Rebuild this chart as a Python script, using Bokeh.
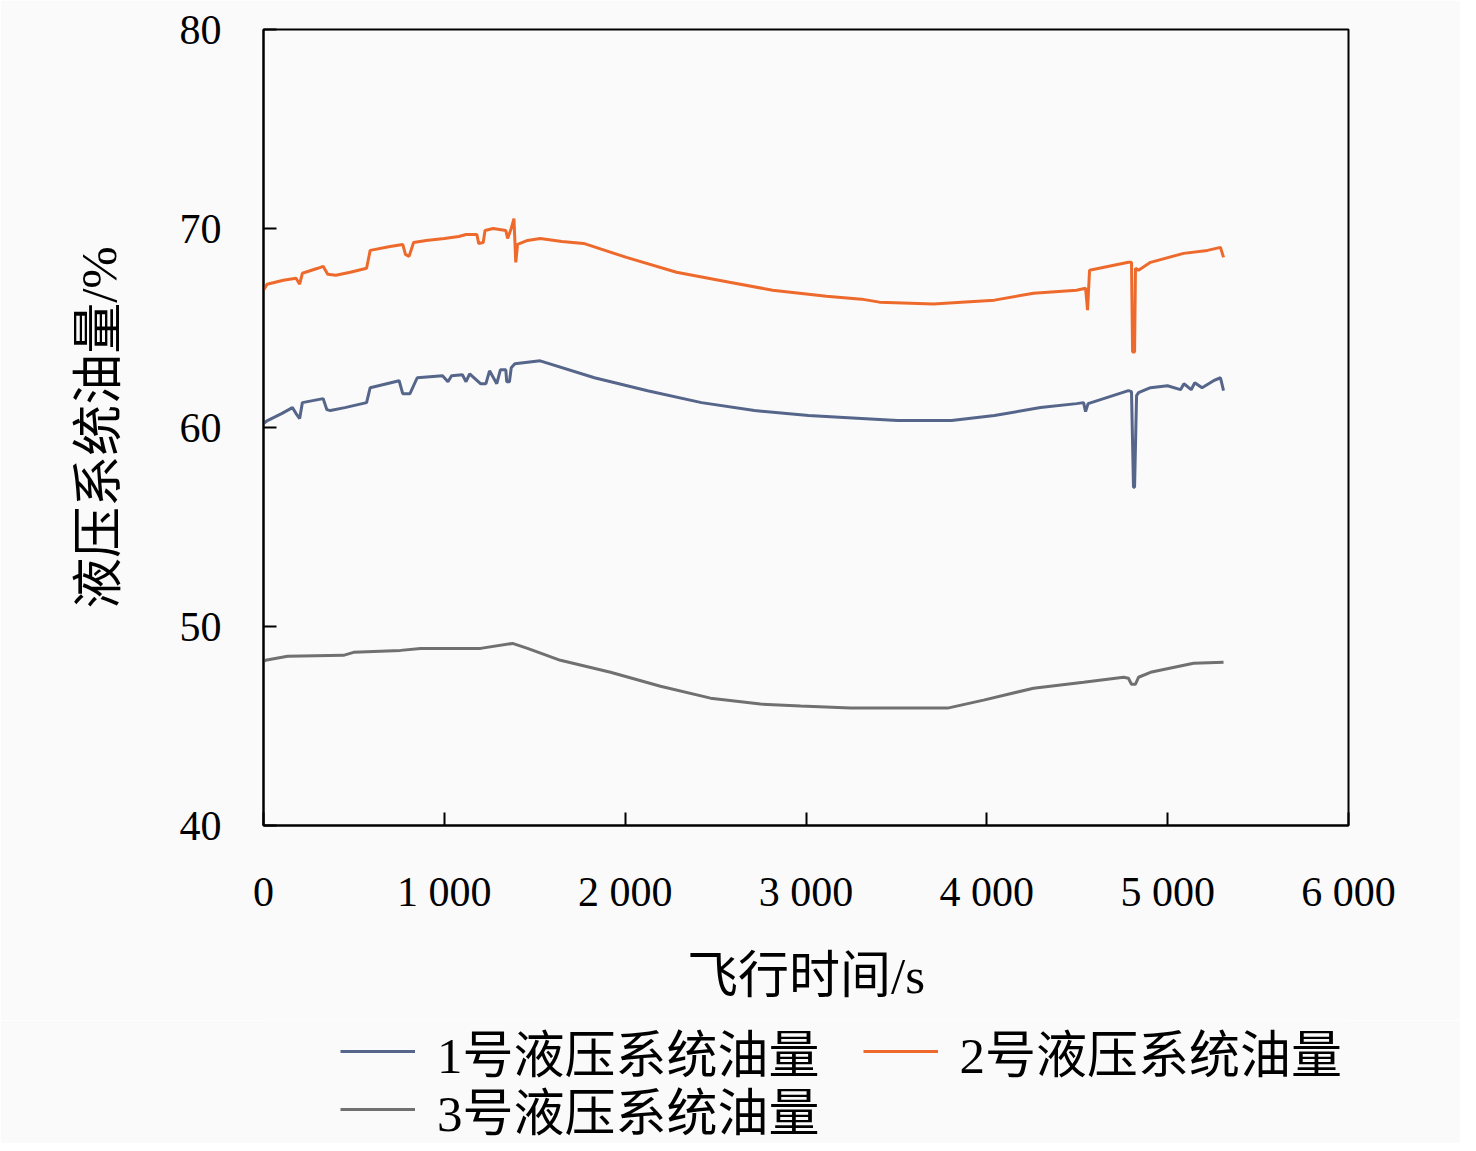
from bokeh.plotting import figure
from bokeh.layouts import column
from bokeh.models import Legend, LegendItem, FixedTicker, Range1d
from bokeh.embed import file_html
from bokeh.resources import INLINE

# ---- data ----
s1_t = [0, 22, 100, 160, 180, 200, 215, 330, 350, 370, 450, 570, 590, 750, 770, 810, 850,
        990, 1020, 1040, 1100, 1120, 1140, 1200, 1230, 1250, 1290, 1310, 1340, 1345, 1360,
        1370, 1390, 1530, 1830, 2124, 2422, 2715, 3014, 3307, 3506, 3805, 4042, 4297, 4496,
        4535, 4546, 4560, 4783, 4800, 4811, 4817, 4828, 4839, 4905, 4999, 5071, 5090, 5130,
        5150, 5190, 5254, 5292, 5309]
s1_v = [60.2, 60.35, 60.7, 61.0, 60.7, 60.45, 61.25, 61.45, 60.9, 60.85, 61.0, 61.25, 62.0,
        62.35, 61.7, 61.7, 62.5, 62.6, 62.3, 62.6, 62.65, 62.3, 62.7, 62.2, 62.2, 62.85, 62.2,
        62.9, 62.9, 62.3, 62.3, 63.0, 63.2, 63.35, 62.5, 61.85, 61.25, 60.85, 60.6, 60.45,
        60.35, 60.35, 60.6, 61.0, 61.2, 61.25, 60.8, 61.2, 61.85, 61.8, 57.0, 57.0, 61.6,
        61.75, 62.0, 62.1, 61.9, 62.2, 61.9, 62.25, 62.0, 62.35, 62.5, 61.85]

s2_t = [0, 20, 110, 180, 200, 215, 300, 330, 355, 400, 480, 570, 590, 700, 770, 785, 805,
        830, 900, 1000, 1080, 1120, 1180, 1190, 1215, 1225, 1270, 1340, 1350, 1370, 1385,
        1395, 1405, 1460, 1530, 1650, 1770, 2007, 2284, 2577, 2815, 3113, 3307, 3406, 3705,
        3860, 4042, 4258, 4496, 4546, 4557, 4568, 4783, 4800, 4806, 4817, 4822, 4839, 4905,
        5088, 5220, 5292, 5309]
s2_v = [66.9, 67.2, 67.4, 67.5, 67.2, 67.75, 68.0, 68.1, 67.7, 67.65, 67.8, 68.0, 68.9, 69.1,
        69.2, 68.7, 68.6, 69.3, 69.4, 69.5, 69.6, 69.7, 69.7, 69.25, 69.3, 69.9, 70.0, 69.9,
        69.5, 70.0, 70.5, 68.3, 69.2, 69.4, 69.5, 69.35, 69.25, 68.55, 67.8, 67.3, 66.9, 66.6,
        66.45, 66.3, 66.2, 66.3, 66.4, 66.75, 66.9, 67.0, 65.9, 67.9, 68.3, 68.3, 63.8, 63.8,
        68.0, 67.9, 68.3, 68.75, 68.9, 69.05, 68.55]

s3_t = [0, 11, 133, 442, 498, 758, 868, 1200, 1377, 1460, 1642, 1919, 2195, 2472, 2748, 2970,
        3246, 3783, 3982, 4258, 4535, 4756, 4783, 4800, 4822, 4839, 4905, 5143, 5309]
s3_v = [48.25, 48.3, 48.5, 48.55, 48.7, 48.8, 48.9, 48.9, 49.15, 48.9, 48.3, 47.7, 47.0, 46.4,
        46.1, 46.0, 45.9, 45.9, 46.3, 46.9, 47.2, 47.45, 47.4, 47.1, 47.1, 47.45, 47.7, 48.15,
        48.2]

series_t = [s1_t, s2_t, s3_t]
series_v = [s1_v, s2_v, s3_v]
series_names = ["1号液压系统油量", "2号液压系统油量", "3号液压系统油量"]
series_colors = ["#56658a", "#ee6a2c", "#707070"]
x_ticks = [0, 1000, 2000, 3000, 4000, 5000, 6000]
x_tick_labels = ["0", "1 000", "2 000", "3 000", "4 000", "5 000", "6 000"]
y_ticks = [40, 50, 60, 70, 80]
x_title = "飞行时间/s"
y_title = "液压系统油量/%"

FONT = "Liberation Serif, Noto Sans CJK SC"
BG = "#fafafa"
W = 1460
H_MAIN = 1020
H_LEG = 123
LW = 3

p = figure(width=W, height=H_MAIN, output_backend="svg", toolbar_location=None,
           x_range=Range1d(0, 6000), y_range=Range1d(40, 80),
           min_border_left=263, min_border_top=29, min_border_right=112,
           min_border_bottom=H_MAIN - 825)
p.background_fill_color = BG
p.border_fill_color = BG
p.outline_line_color = "black"
p.outline_line_width = 2
p.grid.visible = False

for t, v, c in zip(series_t, series_v, series_colors):
    p.line(t, v, line_color=c, line_width=LW)

for ax in (p.xaxis[0], p.yaxis[0]):
    ax.axis_line_color = "black"
    ax.axis_line_width = 2
    ax.major_tick_in = 13
    ax.major_tick_out = 0
    ax.major_tick_line_width = 2
    ax.minor_tick_line_color = None
    ax.major_label_text_font = FONT
    ax.major_label_text_font_size = "42px"
    ax.major_label_text_color = "black"
    ax.axis_label_text_font = FONT
    ax.axis_label_text_font_size = "51px"
    ax.axis_label_text_font_style = "normal"
    ax.axis_label_text_color = "black"

p.xaxis.ticker = FixedTicker(ticks=x_ticks)
p.xaxis.major_label_overrides = {t: l for t, l in zip(x_ticks, x_tick_labels)}
p.xaxis.major_label_standoff = 43
p.xaxis.axis_label = x_title
p.xaxis.axis_label_standoff = 30

p.yaxis.ticker = FixedTicker(ticks=y_ticks)
p.yaxis.major_label_standoff = 42
p.yaxis.axis_label = y_title
p.yaxis.axis_label_standoff = 50

# ---- legend strip below the chart (its frame is aligned with the chart's frame) ----
q = figure(width=W, height=H_LEG, output_backend="svg", toolbar_location=None,
           x_range=Range1d(0, 6000), y_range=Range1d(0, 1), x_axis_type=None, y_axis_type=None,
           min_border=0)
q.background_fill_color = BG
q.border_fill_color = BG
q.outline_line_color = None
q.grid.visible = False
# same series, drawn outside this strip's visible y range; used only for the legend icons
icons = [q.line(t, v, line_color=c, line_width=LW)
         for t, v, c in zip(series_t, series_v, series_colors)]


def make_legend(items, loc):
    lg = Legend(items=items, orientation="horizontal", location=loc)
    lg.label_text_font = FONT
    lg.label_text_font_size = "51px"
    lg.label_text_color = "black"
    lg.glyph_width = 75
    lg.glyph_height = 44
    lg.label_height = 44
    lg.label_standoff = 22
    lg.spacing = 43
    lg.padding = 0
    lg.margin = 0
    lg.border_line_color = None
    lg.background_fill_alpha = 0
    return lg


leg_a = make_legend([LegendItem(label=series_names[0], renderers=[icons[0]]),
                     LegendItem(label=series_names[1], renderers=[icons[1]])], (77, 55))
leg_b = make_legend([LegendItem(label=series_names[2], renderers=[icons[2]])], (77, -3))
q.add_layout(leg_a, "center")
q.add_layout(leg_b, "center")

layout = column(p, q, spacing=0)
open("out.html", "w").write(file_html(layout, INLINE))
